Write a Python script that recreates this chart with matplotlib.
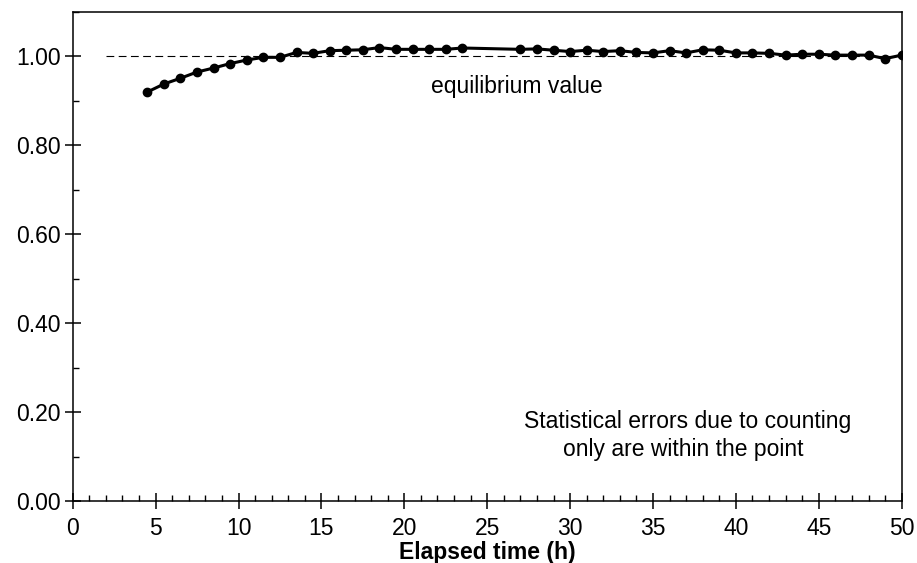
import numpy as np
import matplotlib
matplotlib.use("Agg")
import matplotlib.pyplot as plt
from matplotlib.ticker import MultipleLocator

plt.rcParams['font.family'] = ['Liberation Sans', 'DejaVu Sans']

# elapsed time (h) and measured ratio
hours = [4.5, 5.5, 6.5, 7.5, 8.5, 9.5, 10.5, 11.5, 12.5, 13.5, 14.5, 15.5,
         16.5, 17.5, 18.5, 19.5, 20.5, 21.5, 22.5, 23.5,
         27, 28, 29, 30, 31, 32, 33, 34, 35, 36, 37, 38, 39, 40, 41, 42,
         43, 44, 45, 46, 47, 48, 49, 50]
ratio = [0.920, 0.938, 0.951, 0.965, 0.974, 0.984, 0.992, 0.998, 0.998,
         1.009, 1.007, 1.013, 1.014, 1.015, 1.020, 1.016, 1.016, 1.016,
         1.016, 1.019,
         1.016, 1.017, 1.014, 1.011, 1.014, 1.011, 1.013, 1.009, 1.008,
         1.013, 1.008, 1.015, 1.014, 1.008, 1.008, 1.007, 1.003, 1.005,
         1.005, 1.003, 1.003, 1.003, 0.995, 1.003]
equilibrium = 1.0
eq_range = [2, 50]

fig = plt.figure(figsize=(9.17, 5.63), dpi=100)
ax = fig.add_axes([0.0793, 0.1101, 0.904, 0.8686])

ax.plot(eq_range, [equilibrium, equilibrium], color='black', lw=0.8,
        dashes=(7, 4))
ax.plot(hours, ratio, color='black', lw=2.2, marker='o', markersize=6)

ax.set_xlim(0, 50)
ax.set_ylim(0, 1.10)
ax.xaxis.set_major_locator(MultipleLocator(5))
ax.xaxis.set_minor_locator(MultipleLocator(1))
ax.set_yticks([0, 0.2, 0.4, 0.6, 0.8, 1.0])
ax.yaxis.set_minor_locator(MultipleLocator(0.1))
ax.set_yticklabels(['0.00', '0.20', '0.40', '0.60', '0.80', '1.00'])

ax.tick_params(which='major', direction='inout', length=11, width=1.1,
               labelsize=16.5, pad=3)
ax.tick_params(which='minor', direction='in', length=4.5, width=1.0)
ax.tick_params(axis='x', pad=6)
for s in ax.spines.values():
    s.set_linewidth(1.1)

ax.set_xlabel('Elapsed time (h)', fontsize=16.5, fontweight='bold', labelpad=1)

ax.text(26.8, 0.932, 'equilibrium value', fontsize=16.5, ha='center', va='center')
ax.text(37.1, 0.178, 'Statistical errors due to counting', fontsize=16.5,
        ha='center', va='center')
ax.text(36.83, 0.115, 'only are within the point', fontsize=16.5,
        ha='center', va='center')

fig.savefig('out.png', dpi=100)
